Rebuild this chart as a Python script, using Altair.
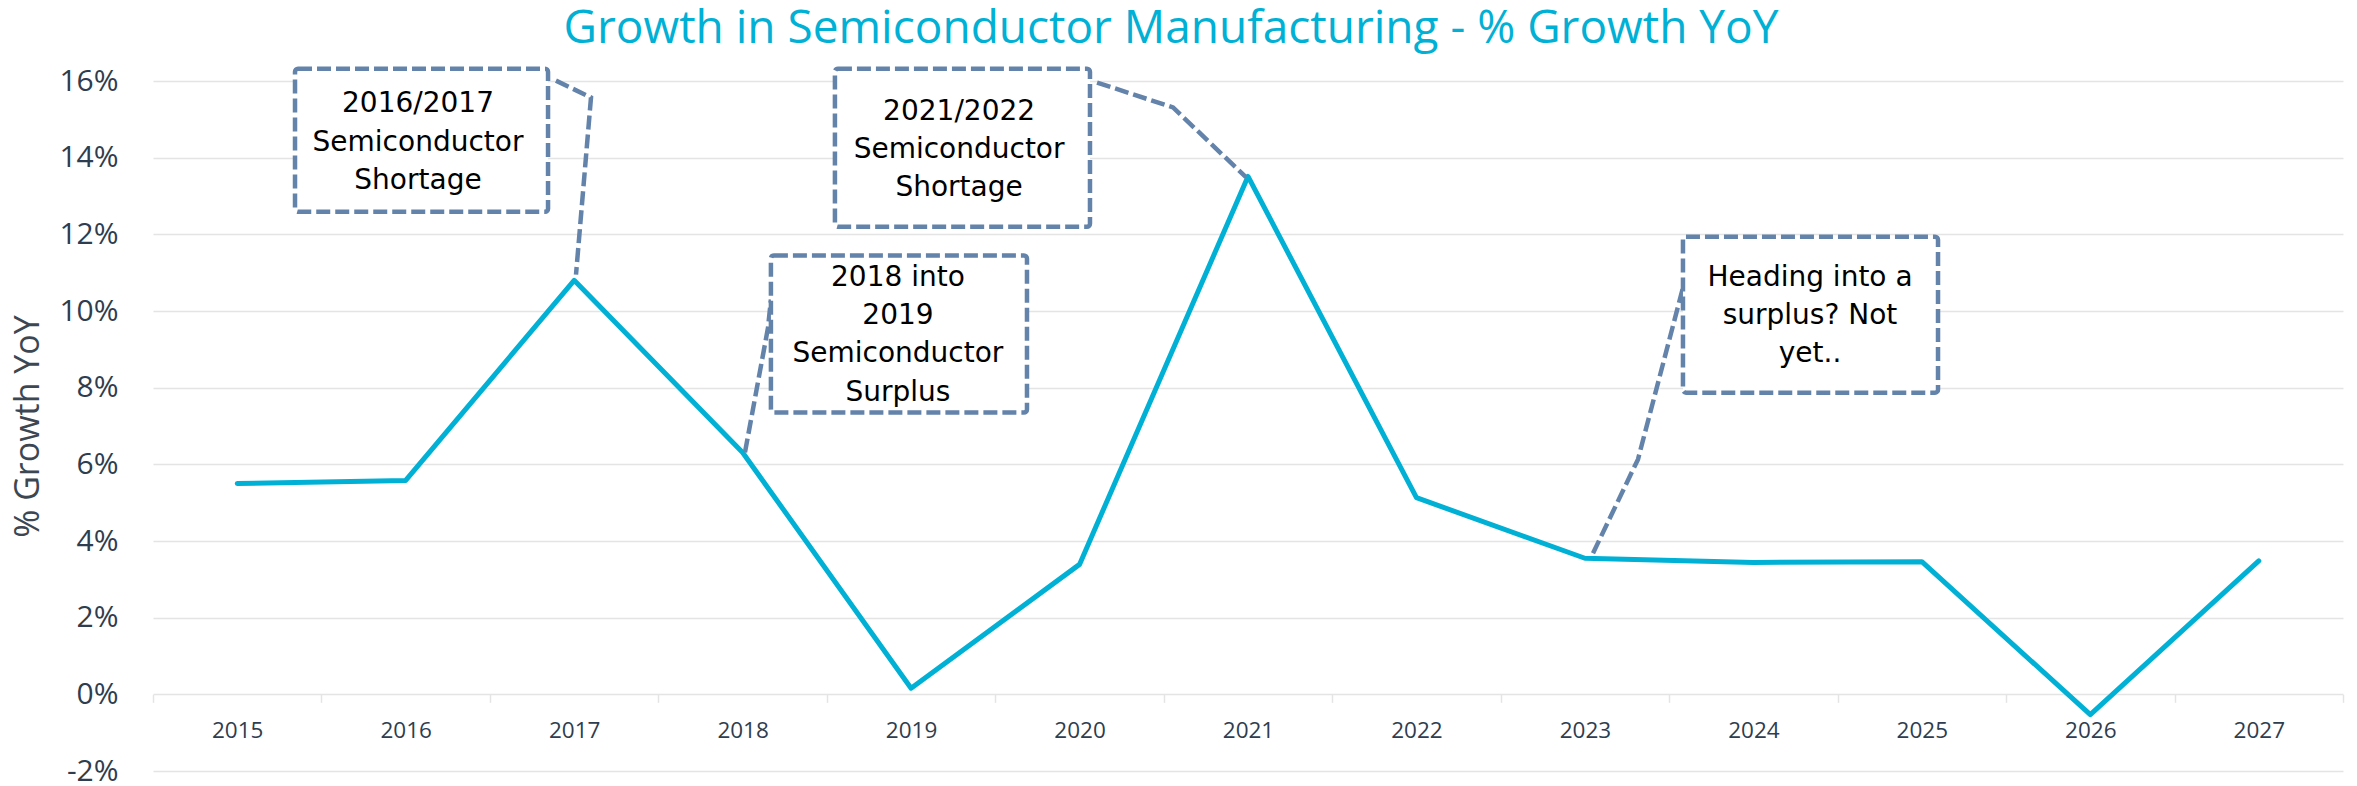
import altair as alt
import pandas as pd

# ---- data ----
years = [2015, 2016, 2017, 2018, 2019, 2020, 2021, 2022, 2023, 2024, 2025, 2026, 2027]
growth = [5.50, 5.58, 10.80, 6.31, 0.16, 3.39, 13.51, 5.13, 3.55, 3.44, 3.46, -0.53, 3.48]
y_ticks = [-2, 0, 2, 4, 6, 8, 10, 12, 14, 16]

# callout boxes (data units: year, % growth)
box_x0 = [2015.343, 2018.548, 2018.168, 2023.582]
box_x1 = [2016.845, 2020.062, 2019.688, 2025.096]
box_top = [16.32, 16.32, 11.45, 11.94]
box_bottom = [12.59, 12.20, 7.35, 7.87]

# leader lines (callout id, x, y)
leader_id = [1, 1, 1, 2, 2, 2, 3, 3, 3, 4, 4, 4]
leader_x = [2016.892, 2017.100, 2017.011, 2020.104, 2020.555, 2020.988,
            2018.014, 2018.151, 2018.168, 2023.048, 2023.315, 2023.582]
leader_y = [16.01, 15.57, 10.95, 15.96, 15.31, 13.49,
            6.31, 9.57, 10.30, 3.68, 6.13, 10.61]

# callout text lines
text_lines = ["2016/2017", "Semiconductor", "Shortage",
              "2021/2022", "Semiconductor", "Shortage",
              "2018 into", "2019", "Semiconductor", "Surplus",
              "Heading into a", "surplus? Not", "yet.."]
text_x = [2016.073] * 3 + [2019.285] * 3 + [2018.922] * 4 + [2024.336] * 3
text_y = [15.41, 14.39, 13.38, 15.20, 14.21, 13.22,
          10.87, 9.88, 8.87, 7.87, 10.87, 9.88, 8.89]

title_text = "Growth in Semiconductor Manufacturing -  % Growth YoY"
y_title = "% Growth YoY"

# ---- tables ----
df = pd.DataFrame({"year": years, "growth": growth})
boxes = pd.DataFrame({"x0": box_x0, "x1": box_x1, "top": box_top, "bottom": box_bottom})
leaders = pd.DataFrame({"id": leader_id, "x": leader_x, "y": leader_y,
                        "seq": list(range(len(leader_x)))})
texts = pd.DataFrame({"t": text_lines, "x": text_x, "y": text_y})

x_dom = [years[0] - 0.5, years[-1] + 0.5]
boundaries = [y - 0.5 for y in years] + [years[-1] + 0.5]
x_scale = alt.Scale(domain=x_dom, nice=False, zero=False)
y_scale = alt.Scale(domain=[y_ticks[0], y_ticks[-1]], nice=False, zero=False)

grid_col = "#e4e4e4"
lab_col = "#2e3d4f"
call_col = "#6383aa"
line_col = "#00B0D5"
dash = [14, 5]

x_label_axis = alt.Axis(
    orient="bottom", values=years, format="d", grid=False, domain=False, ticks=False,
    offset=-76.7, labelFont="Open Sans", labelFontSize=22.5, labelColor=lab_col,
    labelPadding=25, labelOverlap=False, labelFlush=False, title=None,
)
x_tick_axis = alt.Axis(
    orient="bottom", values=boundaries, labels=False, grid=False, domain=False, ticks=True,
    tickColor=grid_col, tickWidth=1.5, tickSize=8, offset=-76.7, title=None,
)
y_axis = alt.Axis(
    values=y_ticks, labelExpr="datum.value + '%'",
    grid=True, gridColor=grid_col, gridWidth=1.5, domain=False, ticks=False, tickSize=0,
    labelPadding=35, labelFont="Open Sans", labelFontSize=30, labelColor=lab_col,
    titleFont="Open Sans", titleFontSize=34, titleFontWeight="normal",
    titleColor="#3d4752", titleX=-125, titleY=345, titleAlign="center",
    titleBaseline="middle", titleAngle=-90,
)

line = alt.Chart(df).mark_line(color=line_col, strokeWidth=5, strokeCap="round",
                               strokeJoin="round").encode(
    x=alt.X("year:Q", scale=x_scale, axis=x_label_axis),
    y=alt.Y("growth:Q", scale=y_scale, axis=y_axis, title=y_title),
)

lead = alt.Chart(leaders).mark_line(color=call_col, strokeWidth=4.5, strokeDash=dash).encode(
    x=alt.X("x:Q", scale=x_scale, axis=x_tick_axis),
    y=alt.Y("y:Q", scale=y_scale, title=y_title),
    detail="id:N",
    order="seq:Q",
)

rects = alt.Chart(boxes).mark_rect(fill="white", stroke=call_col, strokeWidth=4.5,
                                   strokeDash=dash, cornerRadius=3).encode(
    x=alt.X("x0:Q", scale=x_scale, axis=None),
    x2="x1:Q",
    y=alt.Y("top:Q", scale=y_scale, title=y_title),
    y2="bottom:Q",
)

labels = alt.Chart(texts).mark_text(font="DejaVu Sans", fontSize=28, color="black",
                                    align="center", baseline="middle").encode(
    x=alt.X("x:Q", scale=x_scale, axis=None),
    y=alt.Y("y:Q", scale=y_scale, title=y_title),
    text="t:N",
)

chart = alt.layer(line, lead, rects, labels).resolve_axis(x="independent").properties(
    width=2190, height=690,
    background="white",
    title=alt.TitleParams(title_text, font="Open Sans", fontSize=46, color=line_col,
                          fontWeight="normal", anchor="middle", dx=-77, dy=46,
                          baseline="alphabetic", offset=23),
    autosize=alt.AutoSizeParams(type="none"),
    padding={"left": 145, "top": 73, "right": 6, "bottom": 15},
).configure_view(stroke=None)

chart.save("out.html", embed_options={"renderer": "svg", "actions": False})
